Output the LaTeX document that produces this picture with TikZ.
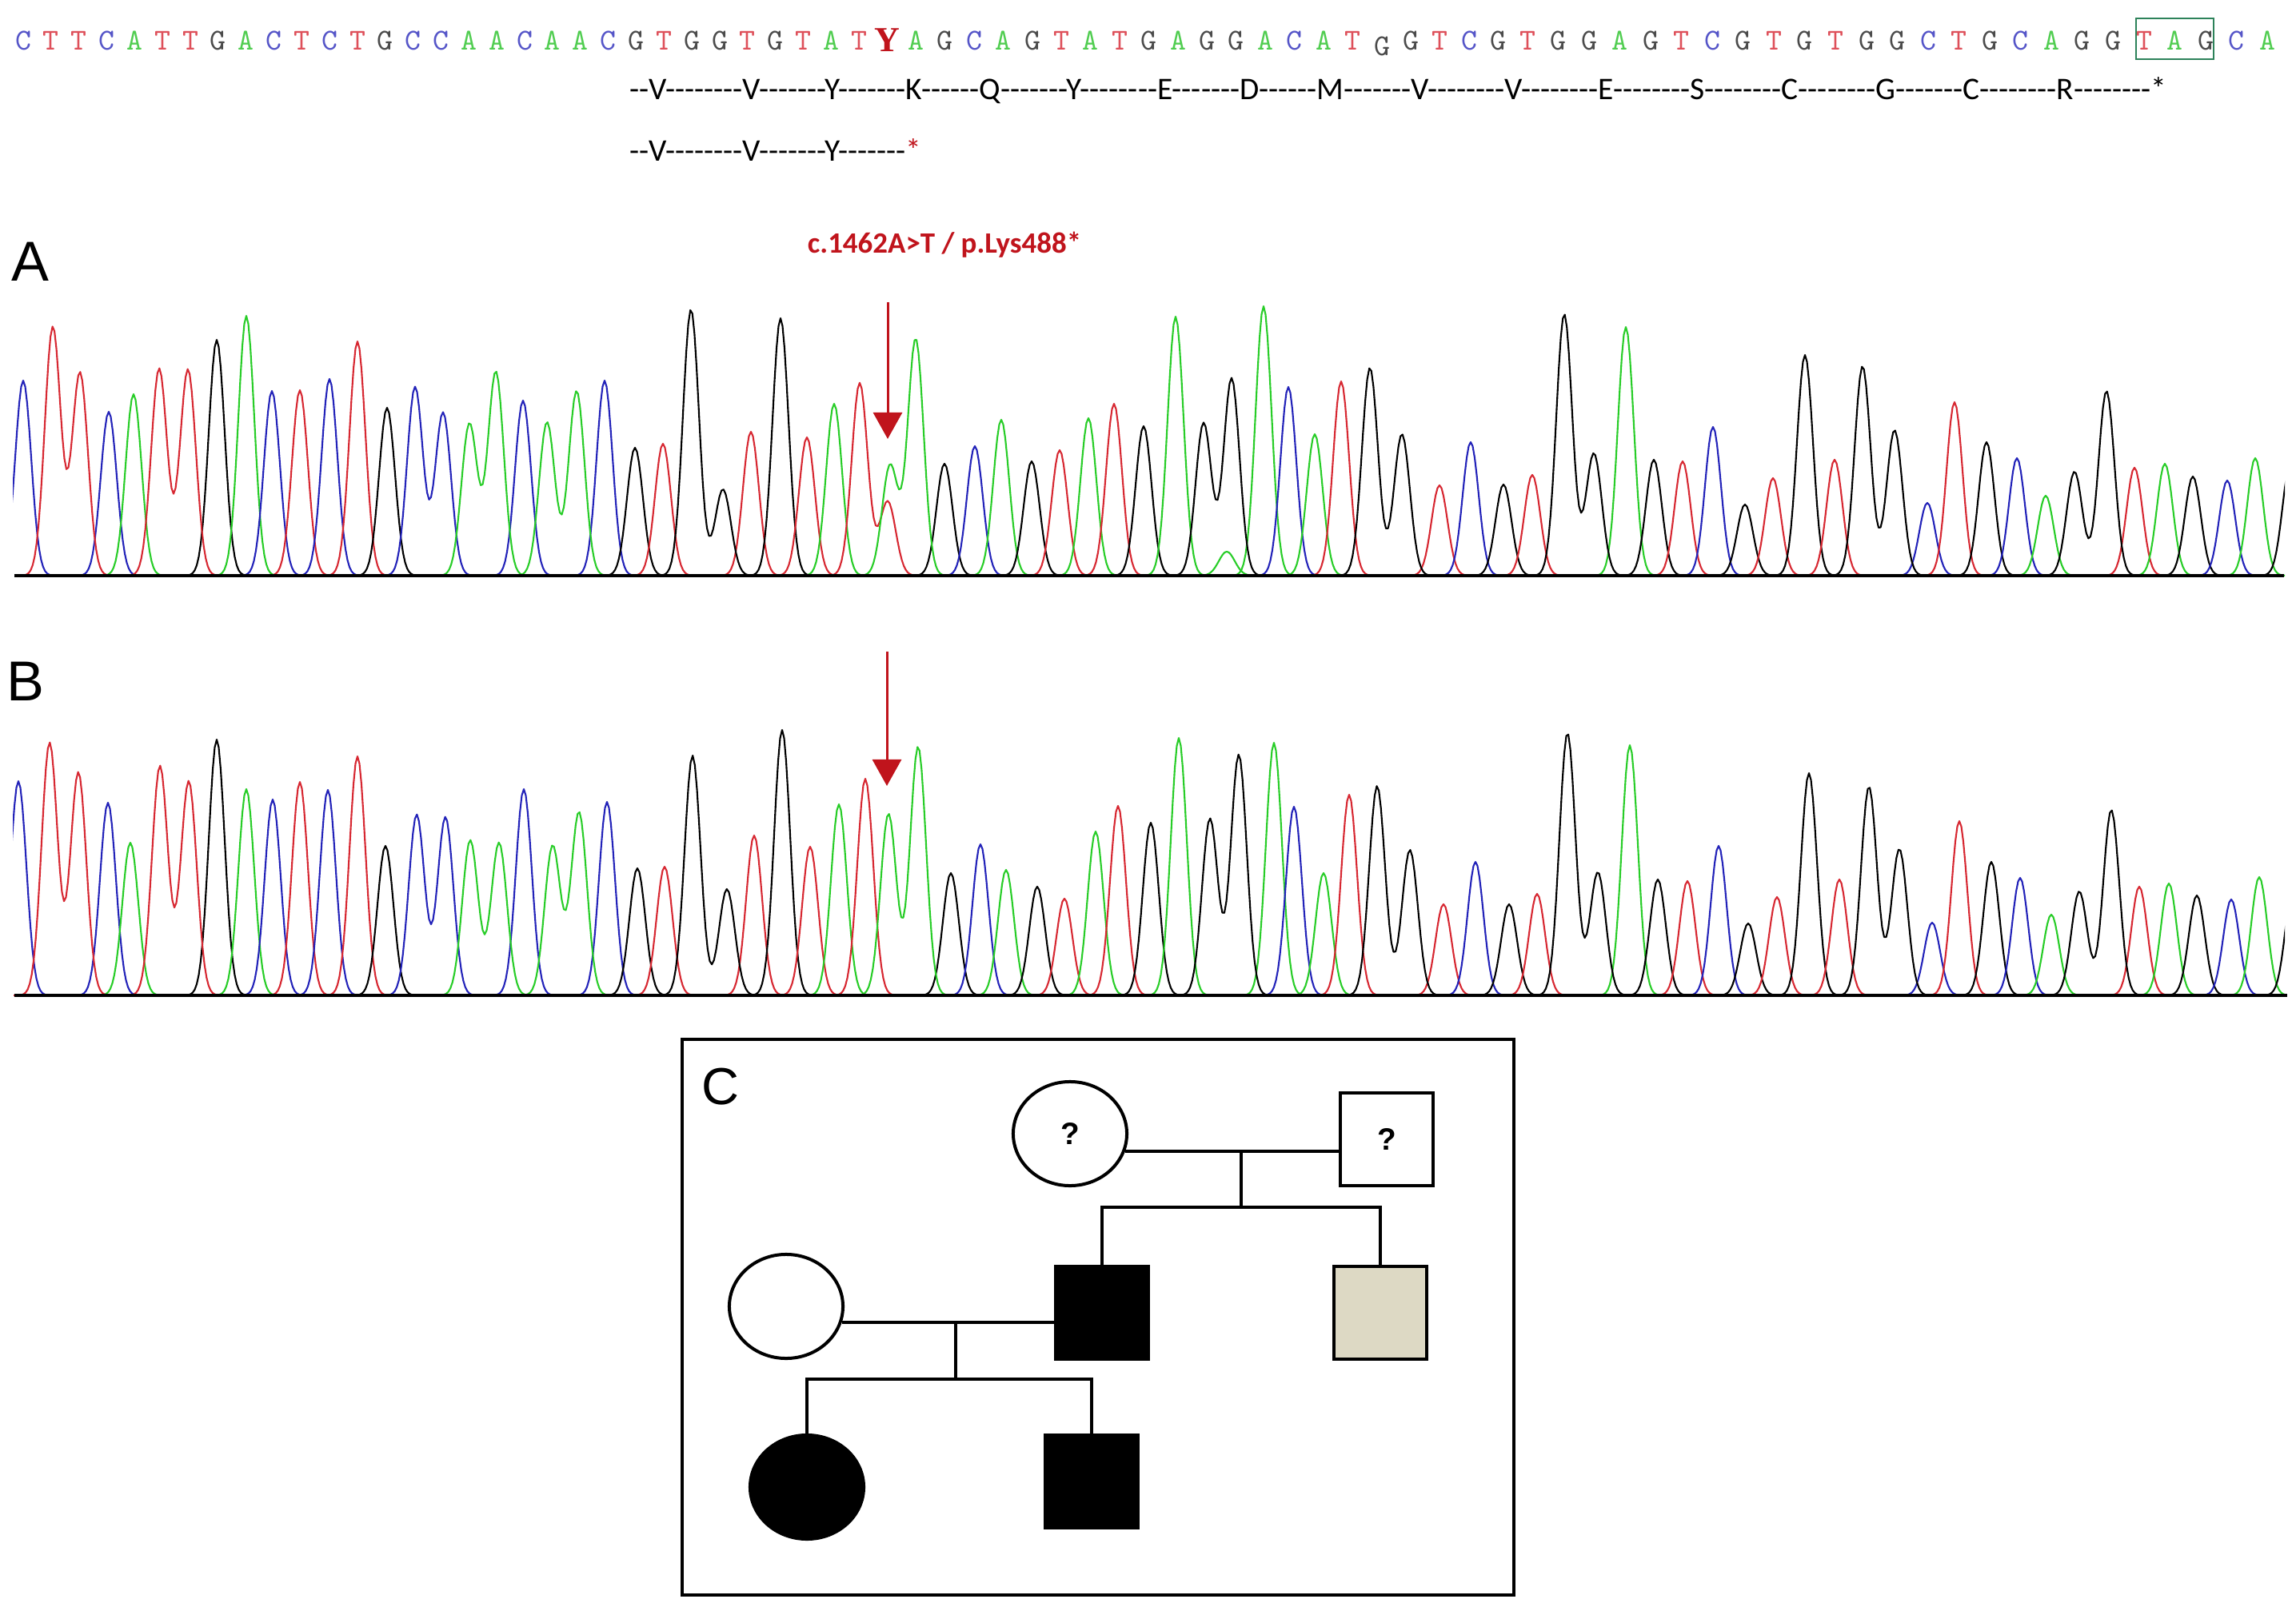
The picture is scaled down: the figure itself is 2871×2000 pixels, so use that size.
\documentclass[tikz,border=0pt]{standalone}
\usepackage{fontspec}
\setmainfont{Liberation Sans}
\newfontfamily\calibri{Carlito}
\newfontfamily\timesf{Liberation Serif}
\usetikzlibrary{arrows.meta,shapes.geometric}

\definecolor{baseA}{RGB}{40,205,40}
\definecolor{baseC}{RGB}{35,35,185}
\definecolor{baseG}{RGB}{0,0,0}
\definecolor{baseT}{RGB}{215,40,50}
\definecolor{seqA}{RGB}{80,205,80}
\definecolor{seqC}{RGB}{85,85,200}
\definecolor{seqG}{RGB}{75,75,75}
\definecolor{seqT}{RGB}{222,80,90}
\definecolor{mutred}{RGB}{192,20,28}
\definecolor{tagbox}{RGB}{45,130,90}
\definecolor{carrier}{RGB}{221,217,196}

\tikzset{
  trace/.style={line width=0.6pt, line join=round},
  seqbase/.style={font=\ttfamily\fontsize{10.8}{10.8}\selectfont, inner sep=0pt},
  aa/.style={font=\calibri\fontsize{11.2}{11.2}\selectfont, inner sep=0pt, anchor=base west},
  panel/.style={font=\fontsize{20}{20}\selectfont, inner sep=0pt, anchor=base west},
  mutarrow/.style={draw=mutred, line width=0.03cm, -{Triangle[width=0.36cm,length=0.33cm]}},
  axis/.style={line width=0.04cm},
  pedline/.style={line width=0.04cm},
  pedf/.style={ellipse, draw, line width=0.04cm, minimum width=1.42cm, minimum height=1.30cm, inner sep=0pt, font=\bfseries\fontsize{11}{11}\selectfont},
  pedm/.style={rectangle, draw, line width=0.04cm, minimum width=1.15cm, minimum height=1.15cm, inner sep=0pt, font=\bfseries\fontsize{11}{11}\selectfont}
}

\newcommand{\peak}[4]{\draw[trace, draw=base#3] plot[domain=#1-45:#1+45, samples=37] (\x, {#4-#2*exp(-(\x-#1)*(\x-#1)/200)})}
\newcommand{\twopeak}[6]{\draw[trace, draw=base#5] plot[domain=#1-45:#3+45, samples=51] (\x, {#6-#2*exp(-(\x-#1)*(\x-#1)/200)-#4*exp(-(\x-#3)*(\x-#3)/200)})}

\begin{document}
\begin{tikzpicture}[x=0.01cm, y=-0.01cm]
\useasboundingbox (0,0) rectangle (2871,2000);
\fill[white] (0,0) rectangle (2871,2000);

\foreach \nt [count=\i from 0] in {C,T,T,C,A,T,T,G,A,C,T,C,T,G,C,C,A,A,C,A,A,C,G,T,G,G,T,G,T,A,T}
  \node[seqbase, text=seq\nt] (s\i) at ({29+34.84*\i},51) {\nt};
\node[font=\timesf\bfseries\fontsize{12.5}{12.5}\selectfont, text=mutred, inner sep=0pt] (sY) at (1109,50) {Y};
\foreach \nt [count=\i from 32] in {A,G,C,A,G,T,A,T,G,A,G,G,A,C,A,T,G,G,T,C,G,T,G,G,A,G,T,C,G,T,G,T,G,G,C,T,G,C,A,G,G,T,A,G,C,A}
  {\pgfmathsetmacro\sx{\i<54 ? 1109+36.41*(\i-31) : 1910+38.55*(\i-53)}
   \pgfmathsetmacro\sy{\i==48 ? 58 : 51}
   \node[seqbase, text=seq\nt] (s\i) at (\sx,\sy) {\nt};}
\draw[tagbox, line width=0.02cm] (2671,23) rectangle (2768,74);

\node[aa] (prot1) at (787,125) {--V--------V-------Y-------K------Q-------Y--------E-------D------M-------V--------V--------E--------S--------C--------G-------C--------R--------*};
\node[aa] (prot2) at (787,202) {--V--------V-------Y-------\textcolor{mutred}{*}};

\node[font=\calibri\bfseries\fontsize{10.5}{10.5}\selectfont, text=mutred, inner sep=0pt, anchor=base] (mutlabel) at (1181,317) {c.1462A>T / p.Lys488*};

\node[panel] (labA) at (14,352) {A};
\node[panel] (labB) at (8,876) {B};

\begin{scope}
\clip (16,300) rectangle (2857,1300);
\foreach \pa/\ha/\nt in {29/244/C, 136/205/C, 167/227/A, 271/295/G, 308/325/A, 340/231/C, 375/232/T, 412/246/C, 447/293/T, 484/210/G, 654/219/C, 756/244/C, 794/160/G, 829/165/T, 939/180/T, 976/322/G, 1009/173/T, 1043/215/A, 1181/140/G, 1219/162/C, 1252/195/A, 1290/143/G, 1325/157/T, 1361/197/A, 1393/215/T, 1430/187/G, 1470/324/A, 1534/30/A, 1580/337/A, 1611/236/C, 1644/177/A, 1677/243/T, 1800/113/T, 1839/167/C, 1880/114/G, 1916/126/T, 2033/311/A, 2068/145/G, 2104/143/T, 2142/186/C, 2182/89/G, 2217/122/T, 2257/276/G, 2294/145/T, 2410/91/C, 2444/217/T, 2484/167/G, 2522/147/C, 2558/100/A, 2669/135/T, 2707/140/A, 2742/124/G, 2785/119/C, 2820/147/A, 2864/140/G}
  {\peak{\pa}{\ha}{\nt}{720};}
\foreach \pa/\ha/\pb/\hb/\nt in {66/311/100/254/T, 199/259/235/258/T, 519/236/554/204/C, 587/190/620/255/A, 684/192/721/231/A, 864/333/904/108/G, 1075/241/1110/93/T, 1113/138/1145/296/A, 1505/191/1540/247/G, 1713/260/1753/177/G, 1956/327/1993/153/G, 2329/262/2369/182/G, 2594/130/2634/231/G}
  {\twopeak{\pa}{\ha}{\pb}{\hb}{\nt}{720};}
\foreach \pa/\ha/\nt in {23/268/C, 135/241/C, 163/191/A, 271/320/G, 308/258/A, 341/245/C, 375/267/T, 410/257/C, 447/299/T, 482/187/G, 655/258/C, 759/242/C, 797/159/G, 831/161/T, 943/200/T, 978/332/G, 1013/186/T, 1049/239/A, 1082/271/T, 1189/153/G, 1226/189/C, 1258/157/A, 1297/136/G, 1331/121/T, 1370/205/A, 1398/237/T, 1439/216/G, 1474/322/A, 1593/316/A, 1618/236/C, 1655/153/A, 1687/251/T, 1805/114/T, 1845/167/C, 1887/114/G, 1922/127/T, 2038/313/A, 2073/145/G, 2110/143/T, 2149/187/C, 2186/90/G, 2222/123/T, 2262/278/G, 2300/145/T, 2416/91/C, 2450/218/T, 2490/167/G, 2526/147/C, 2565/101/A, 2675/136/T, 2712/140/A, 2747/125/G, 2790/120/C, 2825/148/A, 2868/140/G}
  {\peak{\pa}{\ha}{\nt}{1245};}
\foreach \pa/\ha/\pb/\hb/\nt in {62/316/98/279/T, 200/287/236/268/T, 521/226/557/223/C, 588/194/624/191/A, 691/187/724/229/A, 866/300/909/133/G, 1111/227/1148/311/A, 1513/221/1549/301/G, 1722/262/1763/182/G, 1960/328/1998/154/G, 2337/261/2375/183/G, 2600/130/2640/232/G}
  {\twopeak{\pa}{\ha}{\pb}{\hb}{\nt}{1245};}
\end{scope}

\coordinate (axA0) at (18,720);
\coordinate (axA1) at (2856,720);
\coordinate (axB0) at (18,1245);
\coordinate (axB1) at (2860,1245);
\draw[axis] (axA0) -- (axA1);
\draw[axis] (axB0) -- (axB1);

\coordinate (arrA) at (1110,378);
\coordinate (tipA) at (1110,549);
\coordinate (arrB) at (1109,815);
\coordinate (tipB) at (1109,983);
\draw[mutarrow] (arrA) -- (tipA);
\draw[mutarrow] (arrB) -- (tipB);

\draw[line width=0.035cm] (853,1300) rectangle (1893,1995);
\node[panel, font=\fontsize{18.5}{18.5}\selectfont] (labC) at (877,1381) {C};

\node[pedf] (gm) at (1338,1418) {?};
\node[pedm] (gf) at (1734,1425) {?};
\node[pedm, fill=black] (father) at (1378,1642) {};
\node[pedm, fill=carrier] (uncle) at (1726,1642) {};
\node[pedf] (mother) at (983,1634) {};
\node[pedf, fill=black] (daughter) at (1009,1860) {};
\node[pedm, fill=black] (son) at (1365,1853) {};

\coordinate (j1) at (1552,1440);
\coordinate (sib1) at (1552,1510);
\coordinate (j2) at (1195,1653);
\coordinate (sib2) at (1195,1725);
\draw[pedline] (gm.-18) -- (gm.-18 -| gf.west);
\draw[pedline] (j1) -- (sib1);
\draw[pedline] (father.north) -- (father.north |- sib1) -- (uncle.north |- sib1) -- (uncle.north);
\draw[pedline] (mother.-16) -- (mother.-16 -| father.west);
\draw[pedline] (j2) -- (sib2);
\draw[pedline] (daughter.north) -- (daughter.north |- sib2) -- (son.north |- sib2) -- (son.north);
\end{tikzpicture}
\end{document}
